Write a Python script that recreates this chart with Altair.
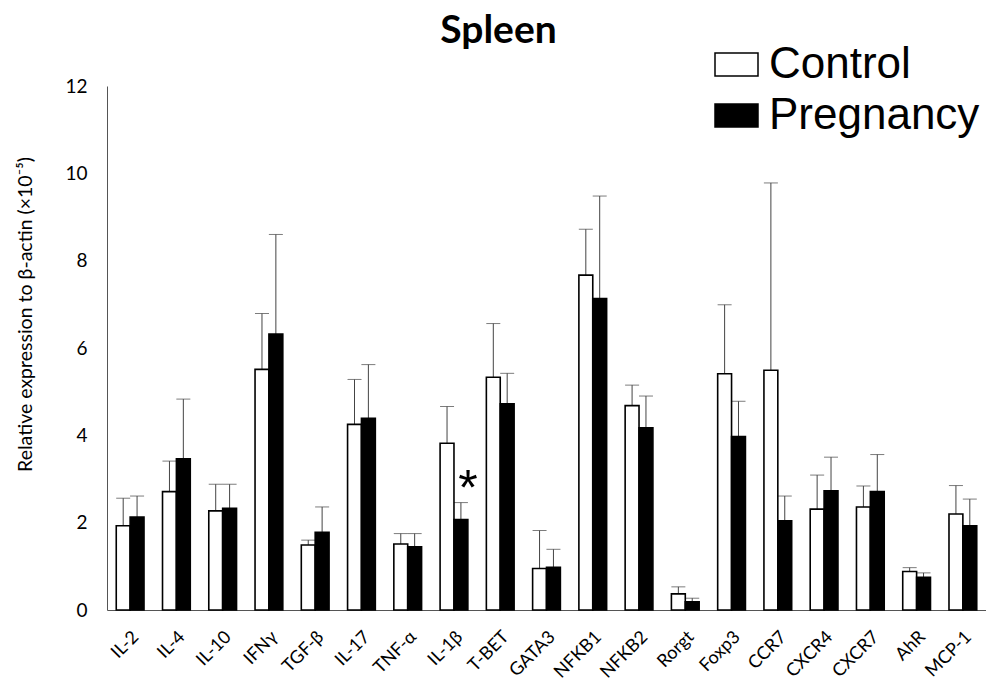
import altair as alt
import pandas as pd

genes = ["IL-2", "IL-4", "IL-10", "IFNγ", "TGF-β", "IL-17", "TNF-α", "IL-1β", "T-BET",
         "GATA3", "NFKB1", "NFKB2", "Rorgt", "Foxp3", "CCR7", "CXCR4", "CXCR7", "AhR", "MCP-1"]
control_mean = [1.93, 2.71, 2.27, 5.51, 1.49, 4.25, 1.51, 3.82, 5.33,
                0.95, 7.67, 4.68, 0.37, 5.41, 5.49, 2.31, 2.36, 0.88, 2.20]
control_upper = [2.56, 3.41, 2.88, 6.79, 1.60, 5.28, 1.75, 4.66, 6.56,
                 1.82, 8.72, 5.15, 0.53, 6.99, 9.78, 3.09, 2.84, 0.97, 2.85]
preg_mean = [2.13, 3.46, 2.33, 6.32, 1.78, 4.39, 1.45, 2.07, 4.72,
             0.98, 7.13, 4.17, 0.19, 3.97, 2.04, 2.73, 2.71, 0.75, 1.93]
preg_upper = [2.61, 4.83, 2.88, 8.60, 2.36, 5.62, 1.75, 2.46, 5.42,
              1.39, 9.48, 4.90, 0.27, 4.78, 2.61, 3.50, 3.56, 0.85, 2.54]
groups = ["Control", "Pregnancy"]
star_gene = ["IL-1β"]
star_group = ["Pregnancy"]
star_y = [2.97]

rows = []
for i, g in enumerate(genes):
    rows.append({"gene": g, "group": "Control", "mean": control_mean[i], "upper": control_upper[i]})
    rows.append({"gene": g, "group": "Pregnancy", "mean": preg_mean[i], "upper": preg_upper[i]})
df = pd.DataFrame(rows)
star_df = pd.DataFrame({"gene": star_gene, "group": star_group, "y": star_y, "t": ["*"]})

FONT = "Lato"

x_enc = alt.X("gene:N", sort=genes,
              scale=alt.Scale(paddingInner=0.4, paddingOuter=0.2),
              axis=alt.Axis(title=None, labelAngle=-45, labelFontSize=18, labelFont=FONT,
                            labelColor="black", ticks=False, domainColor="#555",
                            labelPadding=24, labelOffset=6,
                            labelAlign="right", labelBaseline="middle"))
xoff = alt.XOffset("group:N", sort=groups, scale=alt.Scale(paddingInner=0, paddingOuter=0))
y_scale = alt.Scale(domain=[0, 12], nice=False)

bars = alt.Chart(df).mark_bar(stroke="black", strokeWidth=1.6).encode(
    x=x_enc,
    xOffset=xoff,
    y=alt.Y("mean:Q", scale=y_scale,
            axis=alt.Axis(values=[0, 2, 4, 6, 8, 10, 12], grid=False, ticks=False,
                          domainColor="#555", labelFontSize=19, labelFont=FONT,
                          labelColor="black", labelPadding=20,
                          title="Relative expression to β-actin (×10⁻⁵)",
                          titleFont=FONT, titleFontSize=19.5, titleFontWeight="normal",
                          titleColor="black", titleX=-82, titleY=228, titleAngle=-90,
                          titleAlign="center", titleBaseline="middle")),
    fill=alt.Fill("group:N", sort=groups,
                  scale=alt.Scale(domain=groups, range=["white", "black"]),
                  legend=alt.Legend(title=None, orient="none", legendX=607, legendY=-44,
                                    labelFont="Liberation Sans", labelFontSize=44,
                                    labelColor="black", labelOffset=10, labelLimit=0,
                                    symbolType="M-1,-0.53H1V0.53H-1Z", symbolSize=1849,
                                    symbolStrokeColor="black", symbolStrokeWidth=1.5,
                                    rowPadding=6)),
)

rules = alt.Chart(df).mark_rule(color="#444", strokeWidth=1).encode(
    x=alt.X("gene:N", sort=genes),
    xOffset=xoff,
    y=alt.Y("mean:Q", scale=y_scale),
    y2="upper:Q",
)

caps = alt.Chart(df).mark_tick(color="#444", thickness=1, size=14, orient="horizontal").encode(
    x=alt.X("gene:N", sort=genes),
    xOffset=xoff,
    y=alt.Y("upper:Q", scale=y_scale),
)

star = alt.Chart(star_df).mark_text(fontSize=50, font="Liberation Sans", baseline="alphabetic",
                                    color="black", dx=7, dy=25).encode(
    x=alt.X("gene:N", sort=genes),
    xOffset=xoff,
    y=alt.Y("y:Q", scale=y_scale),
    text="t:N",
)

chart = alt.layer(rules, caps, bars, star).properties(
    width=879, height=524,
    autosize=alt.AutoSizeParams(type="none"),
    padding={"left": 99, "top": 78, "right": 0, "bottom": 72},
    title=alt.TitleParams(text="Spleen", font=FONT, fontSize=39, fontWeight="bold",
                          color="black", anchor="middle", frame="group", dx=-48,
                          offset=0, dy=9),
).configure_view(stroke=None)

chart.save("out.html", embed_options={"renderer": "svg", "actions": False})
